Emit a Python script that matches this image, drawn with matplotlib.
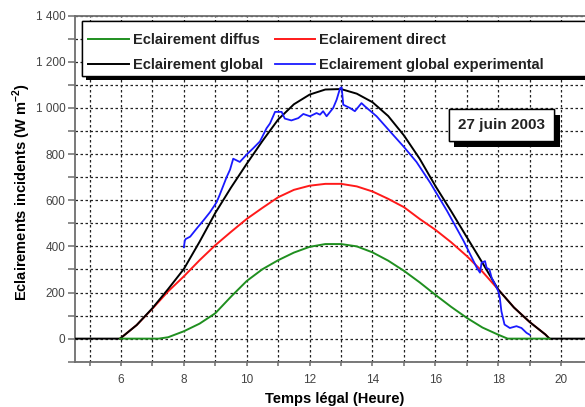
import numpy as np
import matplotlib
matplotlib.use('Agg')
import matplotlib.pyplot as plt
import matplotlib.patheffects as pe
from matplotlib.patches import Rectangle
from matplotlib.ticker import MultipleLocator, FuncFormatter

plt.rcParams['font.family'] = ['Liberation Sans', 'DejaVu Sans']
plt.rcParams['mathtext.fontset'] = 'custom'
plt.rcParams['mathtext.rm'] = 'Liberation Sans'
plt.rcParams['mathtext.bf'] = 'Liberation Sans:bold'

# eclairement global (modele)
h_glob = [4.5, 5.97, 6.5, 7.0, 7.5, 8.0, 8.5, 9.0, 9.5, 10.0, 10.5, 11.0, 11.5, 12.0, 12.5, 13.0,
          13.5, 14.0, 14.5, 15.0, 15.5, 16.0, 16.5, 17.0, 17.5, 18.0, 18.5, 19.0, 19.5, 19.63, 21.0]
e_glob = [0, 0, 59, 132, 215, 302, 420, 545, 655, 758, 857, 950, 1016, 1058, 1080, 1082,
          1062, 1025, 965, 881, 780, 662, 553, 440, 328, 213, 135, 72, 18, 0, 0]

# eclairement direct
h_dir = [5.97, 6.5, 7.0, 7.5, 8.0, 8.5, 9.0, 9.5, 10.0, 10.5, 11.0, 11.5, 12.0, 12.5, 13.0,
         13.5, 14.0, 14.5, 15.0, 15.5, 16.0, 16.5, 17.0, 17.5, 18.0, 18.5, 19.0, 19.5, 19.63]
e_dir = [0, 59, 130, 205, 270, 340, 405, 463, 519, 567, 613, 645, 663, 671, 671,
         660, 638, 606, 570, 519, 472, 418, 358, 290, 213, 135, 72, 18, 0]

# eclairement diffus
h_dif = [5.97, 7.2, 7.5, 8.0, 8.5, 9.0, 9.5, 10.0, 10.5, 11.0, 11.5, 12.0, 12.5, 13.0,
         13.5, 14.0, 14.5, 15.0, 15.5, 16.0, 16.5, 17.0, 17.5, 18.0, 18.3, 19.63]
e_dif = [0, 0, 6, 32, 65, 110, 182, 250, 301, 340, 373, 398, 410, 410,
         400, 374, 338, 294, 244, 190, 138, 90, 48, 17, 0, 0]

# mesures (global experimental)
h_exp = [8.0, 8.03, 8.06, 8.2, 8.4, 8.62, 8.83, 9.04, 9.13, 9.36,
         9.47, 9.57, 9.78, 9.99, 10.21, 10.42, 10.63, 10.74, 10.9, 11.11,
         11.21, 11.42, 11.64, 11.8, 12.01, 12.22, 12.33, 12.43, 12.54, 12.75,
         12.86, 12.97, 13.02, 13.07, 13.28, 13.44, 13.65, 13.76, 14.13, 14.56,
         15.0, 15.4, 15.84, 16.37, 16.9, 17.32, 17.42, 17.47, 17.58, 17.63,
         17.72, 17.79, 17.9, 18.0, 18.05, 18.1, 18.2, 18.37, 18.58, 18.74,
         18.9, 19.0]
e_exp = [396, 425, 432, 442, 476, 512, 548, 591, 620, 700,
         733, 780, 766, 797, 826, 855, 912, 933, 983, 983,
         954, 946, 956, 974, 964, 978, 971, 986, 964, 1000,
         1036, 1086, 1089, 1014, 1000, 986, 1021, 1007, 964, 898,
         831, 766, 675, 554, 423, 307, 286, 329, 336, 307,
         300, 264, 235, 206, 177, 119, 61, 46, 54, 46,
         25, 17]

labels = ['Eclairement diffus', 'Eclairement global', 'Eclairement direct',
          'Eclairement global experimental']

fig = plt.figure(figsize=(5.85, 4.07), dpi=100)
ax = fig.add_axes([75/585, 45.3/407, 510/585, 346/407])

l_dir, = ax.plot(h_dir, e_dir, color='#ff1a1a', lw=1.4, zorder=3)
l_glob, = ax.plot(h_glob, e_glob, color='black', lw=1.4, zorder=4)
l_dif, = ax.plot(h_dif, e_dif, color='#1f8f1f', lw=1.4, zorder=5)
l_exp, = ax.plot(h_exp, e_exp, color='#1a1aff', lw=1.3, zorder=6)

ax.set_xlim(4.537, 20.76)
ax.set_ylim(-100, 1400)
ax.xaxis.set_major_locator(MultipleLocator(2))
ax.xaxis.set_minor_locator(MultipleLocator(1))
ax.yaxis.set_major_locator(MultipleLocator(200))
ax.yaxis.set_minor_locator(MultipleLocator(100))
ax.yaxis.set_major_formatter(FuncFormatter(lambda v, p: f"{int(v):,}".replace(",", " ")))

ax.grid(which='both', color='#222222', linestyle=(0, (2, 2)), linewidth=0.9, zorder=1)
ax.set_axisbelow(True)

for s in ['left', 'bottom', 'top']:
    ax.spines[s].set_color('#6e6e6e')
    ax.spines[s].set_linewidth(1.3)
ax.spines['right'].set_visible(False)

ax.tick_params(axis='y', which='both', direction='out', length=5, width=1.1,
               color='#6e6e6e', labelsize=8.5, labelcolor='#444444', pad=2)
ax.tick_params(axis='x', which='both', direction='out', length=3, width=1.1,
               color='#6e6e6e', labelsize=8.5, labelcolor='#444444', pad=6)

ax.set_xlabel('Temps légal (Heure)', fontsize=10.5, fontweight='bold')
ax.xaxis.set_label_coords(0.51, -0.088)
ax.set_ylabel(r'Eclairements incidents (W m$^{\mathbf{-2}}$)', fontsize=10.5,
              fontweight='bold', va='center')
ax.yaxis.set_label_coords(-0.105, 0.49)

# cadre de la legende (depasse a droite comme sur l'original)
frame = Rectangle((0.0137, 0.826), 1.2, 0.159, transform=ax.transAxes, clip_on=False,
                  facecolor='white', edgecolor='black', linewidth=1.0, zorder=9)
frame.set_path_effects([pe.withSimplePatchShadow(offset=(3, -3), shadow_rgbFace='black', alpha=1),
                        pe.Normal()])
ax.add_patch(frame)

leg = ax.legend([l_dif, l_glob, l_dir, l_exp], labels, ncol=2, loc='upper left',
                bbox_to_anchor=(0.0255, 0.949), borderaxespad=0, borderpad=0, frameon=False,
                handlelength=2.8, handletextpad=0.27, columnspacing=0.8, labelspacing=0.75,
                prop={'size': 10.5, 'weight': 'bold'})
leg.set_zorder(10)
for t in leg.get_texts():
    t.set_color('#222222')

txt = ax.text(18.1, 925, '27 juin 2003', fontsize=11, fontweight='bold', color='#222222',
              ha='center', va='center', zorder=10,
              bbox=dict(boxstyle='square,pad=0.6', facecolor='white', edgecolor='black', linewidth=1.0))
txt.get_bbox_patch().set_path_effects([pe.withSimplePatchShadow(offset=(4, -4), shadow_rgbFace='black', alpha=1),
                                       pe.Normal()])

fig.savefig('out.png', dpi=100)
